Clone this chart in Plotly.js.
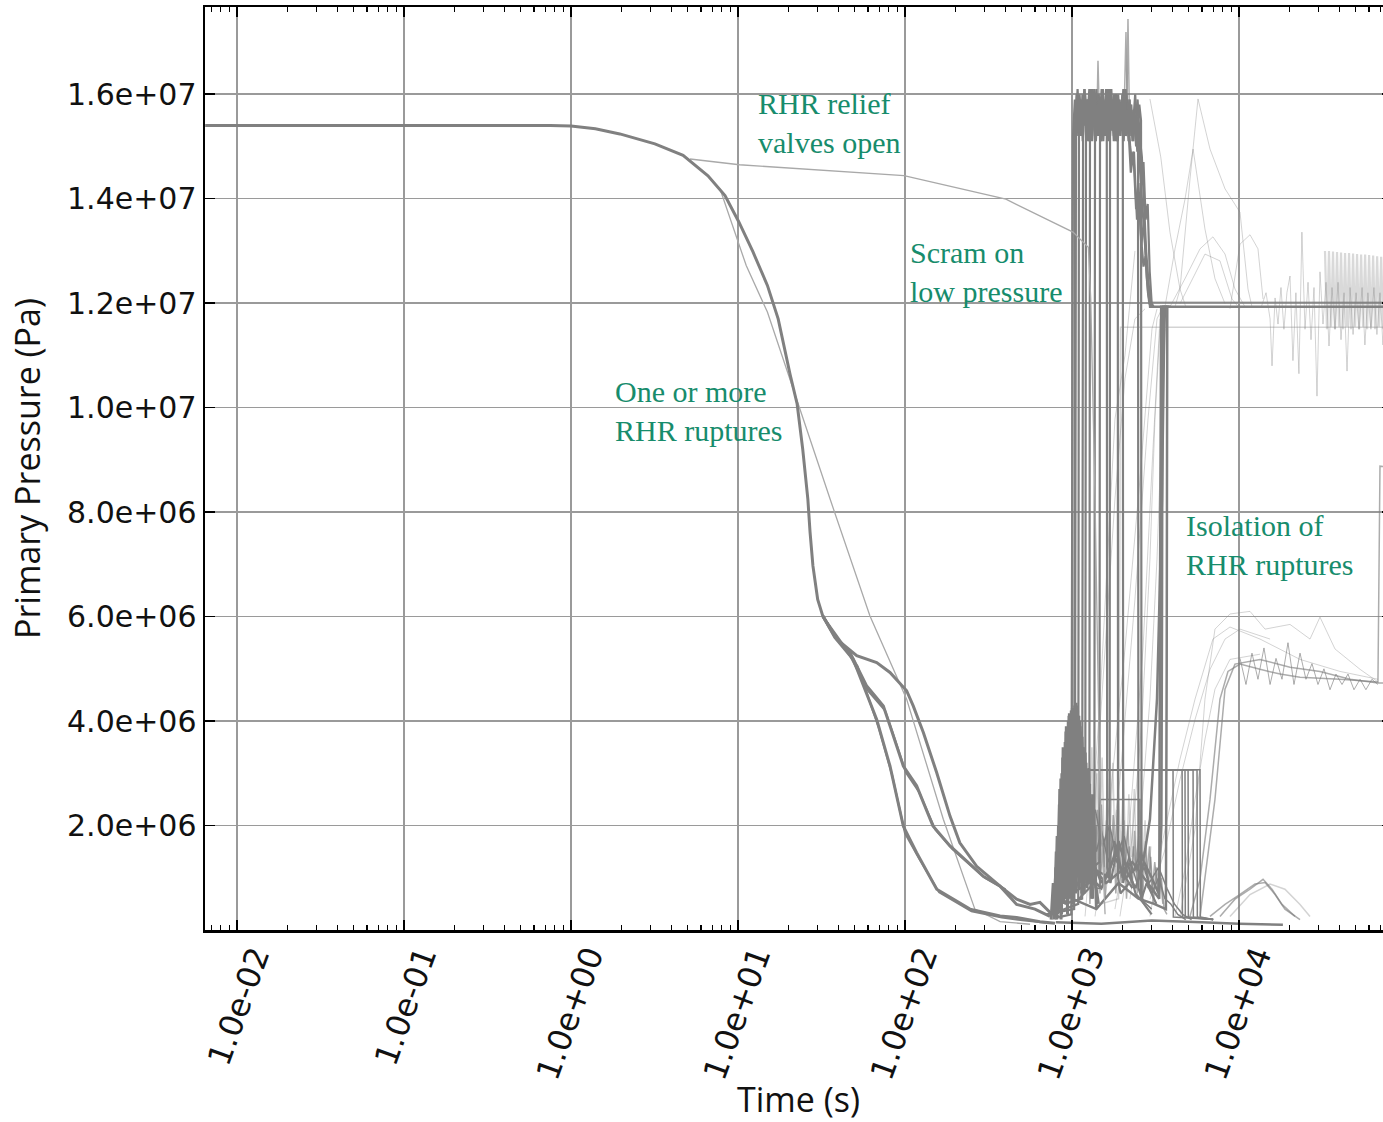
<!DOCTYPE html>
<html><head><meta charset="utf-8">
<script src="https://cdn.plot.ly/plotly-3.0.1.min.js"></script>
<style>html,body{margin:0;padding:0;overflow:hidden;background:#fff}#chart{width:1392px;height:1122px}</style>
</head><body><div id="chart"></div>
<script>
// ---------------- axis tick labels ----------------
const xTickVals = [0.01, 0.1, 1, 10, 100, 1000, 10000];
const xTickText = ['1.0e-02', '1.0e-01', '1.0e+00', '1.0e+01', '1.0e+02', '1.0e+03', '1.0e+04'];
const yTickVals = [2e6, 4e6, 6e6, 8e6, 10e6, 12e6, 14e6, 16e6];
const yTickText = ['2.0e+06', '4.0e+06', '6.0e+06', '8.0e+06', '1.0e+07', '1.2e+07', '1.4e+07', '1.6e+07'];

// ---------------- early transient (time s, pressure Pa) ----------------
const trunkT = [0.00645, 0.01, 0.1, 0.75, 1.0, 1.4, 1.96, 3.18, 4.69, 6.61, 8.36, 10.1, 12.3, 15.0, 17.4, 20.5, 22.6, 24.4, 26.2, 27.0, 28.1, 30.0, 32.2];
const trunkP = [15.40e6, 15.40e6, 15.40e6, 15.40e6, 15.39e6, 15.34e6, 15.24e6, 15.05e6, 14.83e6, 14.44e6, 14.06e6, 13.56e6, 12.98e6, 12.34e6, 11.70e6, 10.64e6, 10.07e6, 9.21e6, 8.25e6, 7.62e6, 6.97e6, 6.33e6, 6.01e6];
const branchAT = [32.2, 39.0, 51.4, 67.7, 81.3, 102.3, 112, 128.8, 154.9, 186, 213, 268.7, 371, 466, 561, 643, 738, 847];
const branchAP = [6.01e6, 5.57e6, 5.25e6, 5.12e6, 4.93e6, 4.58e6, 4.29e6, 3.78e6, 3.01e6, 2.18e6, 1.67e6, 1.22e6, 0.84e6, 0.59e6, 0.49e6, 0.53e6, 0.34e6, 0.24e6];
const branchBT = [32.2, 38, 46.9, 59.0, 74.2, 81.3, 97.7, 117.4, 147, 186, 294, 371, 466, 600, 738];
const branchBP = [6.01e6, 5.62e6, 5.31e6, 4.67e6, 4.29e6, 3.91e6, 3.14e6, 2.76e6, 1.99e6, 1.61e6, 1.03e6, 0.84e6, 0.49e6, 0.40e6, 0.26e6];
const branchB2T = [32.2, 45, 60, 76, 84, 101, 121, 152, 192, 300, 400];
const branchB2P = [6.01e6, 5.36e6, 4.58e6, 4.20e6, 3.80e6, 3.02e6, 2.65e6, 1.92e6, 1.55e6, 1.00e6, 0.78e6];
const branchCT = [32.2, 38, 49.0, 67.7, 81.3, 97.7, 117.4, 154.9, 245, 371, 466, 643, 791];
const branchCP = [6.01e6, 5.60e6, 5.18e6, 4.03e6, 3.14e6, 1.99e6, 1.48e6, 0.78e6, 0.40e6, 0.27e6, 0.24e6, 0.16e6, 0.13e6];
const branchC2T = [32.2, 40, 52, 70, 84, 100, 121, 160, 250, 380, 520, 700];
const branchC2P = [6.01e6, 5.55e6, 5.05e6, 3.85e6, 2.95e6, 1.85e6, 1.38e6, 0.72e6, 0.36e6, 0.24e6, 0.18e6, 0.14e6];
const fastT = [7.8, 11.2, 15.0, 35.6, 61.7, 102.3, 169.6, 262, 371, 561];
const fastP = [14.19e6, 12.72e6, 11.83e6, 8.25e6, 6.01e6, 4.42e6, 2.12e6, 0.40e6, 0.16e6, 0.11e6];
const reliefT = [5.16, 10.2, 98.6, 402, 1014, 1253, 1295, 1374, 1472, 1578];
const reliefP = [14.76e6, 14.65e6, 14.44e6, 13.99e6, 13.36e6, 13.07e6, 12.08e6, 8.25e6, 2.50e6, 0.30e6];

// ---------------- repressurisation band runs ----------------
const H1T = [850, 990, 1014, 1040, 1075, 1110, 1150, 1190, 1230, 1270, 1310, 1350, 1390, 1430, 1470, 1510, 1550, 1600, 1650, 1700, 1750, 1800, 1850, 1900, 1950, 2000, 2060, 2120, 2180, 2240, 2300, 2360, 2420, 2480, 2550, 2620, 2700, 2780, 2860, 2930, 3000, 3100];
const H1P = [0.25e6, 0.3e6, 15.2e6, 15.9e6, 15.3e6, 16.0e6, 15.2e6, 15.8e6, 15.4e6, 16.1e6, 15.3e6, 15.7e6, 15.1e6, 15.9e6, 15.4e6, 16.0e6, 15.2e6, 15.8e6, 15.3e6, 16.1e6, 15.5e6, 15.8e6, 15.2e6, 15.9e6, 15.3e6, 15.7e6, 15.2e6, 16.0e6, 15.4e6, 15.8e6, 15.1e6, 15.6e6, 15.0e6, 15.3e6, 14.6e6, 14.0e6, 13.4e6, 12.8e6, 12.3e6, 11.93e6, 11.93e6, 11.93e6];
const H2T = [900, 1150, 1165, 1190, 1215, 1240, 1265, 1290, 1320, 1350, 1380, 1410, 1440, 1470, 1500, 1530, 1560, 1590, 1615, 1625, 1700, 1850, 2000, 2300];
const H2P = [0.5e6, 0.6e6, 15.4e6, 16.1e6, 15.2e6, 15.9e6, 15.5e6, 16.1e6, 15.1e6, 15.8e6, 15.3e6, 16.0e6, 15.2e6, 15.7e6, 15.4e6, 16.1e6, 15.3e6, 15.9e6, 15.6e6, 1.2e6, 0.9e6, 1.5e6, 1.1e6, 0.8e6];
const H3T = [780, 1040, 1057, 1080, 1105, 1130, 1160, 1200, 1240, 1280, 1320, 1360, 1400, 1445, 1490, 1535, 1580, 1630, 1680, 1730, 1780, 1830, 1880, 1930, 1990, 2050, 2110, 2170, 2230, 2290, 2350, 2400, 2450, 2520, 2600, 2680, 2760, 2850, 2950, 3050];
const H3P = [0.4e6, 0.8e6, 15.5e6, 16.1e6, 15.4e6, 15.9e6, 15.1e6, 16.0e6, 15.3e6, 15.8e6, 15.2e6, 16.1e6, 15.5e6, 15.9e6, 15.1e6, 15.7e6, 15.4e6, 16.1e6, 15.2e6, 15.9e6, 15.3e6, 16.0e6, 15.1e6, 15.8e6, 15.4e6, 16.1e6, 15.2e6, 15.6e6, 15.0e6, 14.7e6, 14.9e6, 14.2e6, 13.6e6, 14.0e6, 13.2e6, 12.7e6, 12.9e6, 12.2e6, 11.93e6, 11.93e6];
const H4T = [950, 1200, 1213, 1240, 1270, 1300, 1335, 1370, 1405, 1440, 1480, 1520, 1560, 1600, 1645, 1690, 1735, 1780, 1830, 1880, 1930, 1980, 2015, 2025, 2150, 2400, 2700];
const H4P = [1.0e6, 1.3e6, 15.3e6, 15.9e6, 15.1e6, 16.1e6, 15.4e6, 15.8e6, 15.2e6, 16.0e6, 15.3e6, 15.9e6, 15.5e6, 16.1e6, 15.2e6, 15.8e6, 15.4e6, 16.0e6, 15.1e6, 15.9e6, 15.3e6, 15.7e6, 15.6e6, 0.9e6, 1.3e6, 0.7e6, 0.5e6];
const H5T = [1100, 1360, 1374, 1400, 1430, 1460, 1495, 1530, 1570, 1610, 1650, 1695, 1740, 1790, 1840, 1890, 1945, 2000, 2060, 2120, 2180, 2250, 2320, 2390, 2460, 2530, 2590, 2610, 2800, 3200];
const H5P = [0.6e6, 0.9e6, 15.6e6, 16.1e6, 15.3e6, 15.9e6, 15.2e6, 16.0e6, 15.4e6, 15.8e6, 15.1e6, 16.1e6, 15.3e6, 15.9e6, 15.5e6, 15.8e6, 15.2e6, 16.0e6, 15.3e6, 15.9e6, 15.1e6, 15.7e6, 15.4e6, 16.0e6, 15.2e6, 15.8e6, 15.5e6, 0.6e6, 0.9e6, 0.5e6];
const H6T = [700, 1030, 1042, 1065, 1090, 1120, 1150, 1185, 1220, 1255, 1295, 1335, 1375, 1415, 1460, 1505, 1550, 1600, 1650, 1700, 1755, 1810, 1870, 1930, 1990, 2050, 2110, 2164, 2250, 2330, 2420, 2500, 2600, 2700, 2800, 2900, 3000];
const H6P = [0.3e6, 0.4e6, 15.4e6, 16.0e6, 15.2e6, 15.8e6, 15.3e6, 16.1e6, 15.5e6, 15.9e6, 15.2e6, 16.0e6, 15.1e6, 15.8e6, 15.4e6, 16.1e6, 15.2e6, 15.9e6, 15.3e6, 16.0e6, 15.5e6, 15.8e6, 15.1e6, 15.9e6, 15.3e6, 16.1e6, 15.4e6, 15.5e6, 14.5e6, 14.9e6, 13.8e6, 14.3e6, 13.1e6, 13.6e6, 12.5e6, 12.0e6, 11.93e6];
const H7T = [1300, 1680, 1690, 1720, 1760, 1800, 1845, 1890, 1940, 1990, 2040, 2095, 2150, 2210, 2270, 2330, 2400, 2470, 2540, 2620, 2700, 2780, 2870, 2960, 3050];
const H7P = [1.2e6, 1.0e6, 15.7e6, 16.1e6, 15.3e6, 15.9e6, 15.2e6, 16.0e6, 15.4e6, 15.8e6, 15.1e6, 16.1e6, 15.3e6, 15.9e6, 15.2e6, 15.7e6, 15.4e6, 15.9e6, 15.2e6, 14.8e6, 13.9e6, 13.0e6, 12.4e6, 11.95e6, 11.93e6];
const H8T = [820, 1090, 1101, 1125, 1155, 1185, 1215, 1250, 1285, 1320, 1360, 1400, 1440, 1485, 1530, 1575, 1625, 1675, 1725, 1780, 1835, 1890, 1950, 2010, 2075, 2140, 2210, 2280, 2350, 2420, 2484, 2500, 2700, 3000];
const H8P = [0.35e6, 0.5e6, 15.8e6, 15.2e6, 16.0e6, 15.4e6, 15.9e6, 15.1e6, 16.1e6, 15.3e6, 15.9e6, 15.2e6, 16.0e6, 15.5e6, 15.8e6, 15.2e6, 16.1e6, 15.4e6, 15.9e6, 15.1e6, 16.0e6, 15.3e6, 15.8e6, 15.2e6, 16.1e6, 15.4e6, 15.9e6, 15.2e6, 15.7e6, 15.3e6, 15.5e6, 0.8e6, 0.5e6, 0.3e6];
const H9T = [1000, 1270, 1282, 1305, 1330, 1355, 1380, 1410, 1440, 1470, 1505, 1540, 1575, 1610, 1650, 1690, 1735, 1780, 1825, 1875, 1925, 1975, 2030, 2085, 2145, 2205, 2265, 2330, 2395, 2460, 2530, 2600, 2680, 2760, 2840, 2920, 3000, 3080];
const H9P = [0.7e6, 0.9e6, 15.9e6, 15.3e6, 16.1e6, 15.5e6, 15.9e6, 15.2e6, 16.0e6, 15.3e6, 15.9e6, 15.1e6, 15.8e6, 15.4e6, 16.1e6, 15.2e6, 15.9e6, 15.4e6, 16.0e6, 15.2e6, 15.8e6, 15.3e6, 16.1e6, 15.5e6, 15.9e6, 15.2e6, 15.8e6, 15.1e6, 15.6e6, 14.9e6, 15.2e6, 14.4e6, 14.7e6, 13.6e6, 13.9e6, 12.6e6, 12.0e6, 11.93e6];
const H10T = [1200, 1460, 1472, 1500, 1530, 1560, 1595, 1630, 1665, 1700, 1740, 1780, 1830, 1880, 1886, 1950, 2200];
const H10P = [1.1e6, 1.3e6, 15.7e6, 15.1e6, 16.0e6, 15.3e6, 15.9e6, 15.2e6, 16.1e6, 15.4e6, 15.8e6, 15.2e6, 16.0e6, 15.5e6, 1.0e6, 0.7e6, 0.9e6];
const spikeT = [1415, 1431, 1450, null, 2060, 2105, 2140, null, 2130, 2164, 2200];
const spikeP = [15.8e6, 16.64e6, 15.9e6, null, 15.9e6, 17.19e6, 15.8e6, null, 15.7e6, 17.44e6, 15.9e6];
const descT = [2929, 3400, 3860, 4433, 4800];
const descP = [15.91e6, 14.8e6, 13.36e6, 12.27e6, 11.93e6];

// ---------------- isolation runs ----------------
const I1T = [800, 1000, 1150, 1300, 1500, 1700, 1900, 2150, 2400, 2700, 3000, 3300, 3430, 3460, 3480, 3520, 3700];
const I1P = [0.3e6, 0.9e6, 1.8e6, 1.4e6, 0.9e6, 1.2e6, 1.7e6, 1.1e6, 0.8e6, 1.3e6, 1.0e6, 0.7e6, 2.0e6, 6.0e6, 10.5e6, 11.93e6, 11.93e6];
const I2T = [900, 1200, 1500, 1800, 2100, 2382, 2700, 2929, 3228, 3458, 3550, 3603, 3800];
const I2P = [0.5e6, 1.1e6, 0.8e6, 1.4e6, 1.0e6, 1.16e6, 1.4e6, 2.12e6, 4.42e6, 8.25e6, 11.0e6, 11.93e6, 11.93e6];
const I3T = [1000, 1400, 1900, 2500, 3100, 3650, 3690, 3720, 3900];
const I3P = [0.6e6, 0.4e6, 0.9e6, 0.6e6, 0.5e6, 0.4e6, 5.0e6, 11.93e6, 11.93e6];
const I4T = [1100, 1600, 2300, 3000, 3330, 3370, 3420, 3600];
const I4P = [1.5e6, 0.9e6, 1.3e6, 0.8e6, 0.6e6, 7.0e6, 11.93e6, 11.93e6];
const LC1T = [1374, 1690, 2075, 2552, 3013, 3228];
const LC1P = [0.26e6, 2.50e6, 5.38e6, 8.63e6, 11.51e6, 11.89e6];
const LC2T = [1578, 1937, 2382, 2852, 3228, 3458];
const LC2P = [0.59e6, 2.88e6, 6.33e6, 9.78e6, 11.70e6, 11.89e6];
const LC3T = [1808, 2223, 2661, 3054, 3363];
const LC3P = [0.40e6, 2.12e6, 5.38e6, 9.21e6, 11.70e6];
const LC4T = [1282, 1472, 1643, 1808, 2075, 2382];
const LC4P = [1.54e6, 4.42e6, 7.29e6, 9.78e6, 11.0e6, 13.0e6];
const LC5T = [1197, 1374, 1578, 1808, 2075, 2382, 2734];
const LC5P = [0.26e6, 2.50e6, 5.38e6, 8.25e6, 10.55e6, 11.70e6, 11.89e6];
const LC6T = [1937, 2288, 2626, 2929, 3139, 3363];
const LC6P = [0.26e6, 1.74e6, 4.03e6, 7.10e6, 9.78e6, 11.51e6];
const LC7T = [2223, 2552, 2929, 3228, 3458, 3603];
const LC7P = [0.59e6, 1.93e6, 4.42e6, 7.10e6, 9.78e6, 11.51e6];
const LC8T = [2929, 3603, 4433, 5454, 6705, 8245, 10140, 15350];
const LC8P = [0.59e6, 1.54e6, 2.88e6, 4.03e6, 4.99e6, 5.57e6, 5.76e6, 5.57e6];
const LC9T = [4138, 4750, 5454, 6255, 7180, 8830, 13360];
const LC9P = [0.26e6, 1.16e6, 2.50e6, 3.65e6, 4.61e6, 5.18e6, 5.28e6];

// ---------------- low-pressure runs ----------------
const LW1T = [1100, 1200, 1300, 1400, 1500, 1650, 1800, 2000, 2200, 2450, 2700, 3000, 3300, 3600, 3900, 4300, 4800];
const LW1P = [2.4e6, 1.8e6, 2.2e6, 1.5e6, 1.9e6, 1.3e6, 1.7e6, 1.0e6, 1.4e6, 0.9e6, 1.2e6, 0.7e6, 1.0e6, 0.6e6, 0.5e6, 0.3e6, 0.2e6];
const LW2T = [1050, 1150, 1250, 1380, 1520, 1680, 1850, 2050, 2300, 2600, 2900, 3300, 3700, 4100, 4600, 5200];
const LW2P = [1.2e6, 2.6e6, 1.9e6, 2.3e6, 1.6e6, 2.0e6, 1.4e6, 1.8e6, 1.1e6, 1.5e6, 0.9e6, 1.2e6, 0.8e6, 0.5e6, 0.3e6, 0.2e6];
const LZ1T = [1100, 1130, 1165, 1200, 1240, 1280, 1325, 1370, 1420, 1470, 1525, 1580, 1640, 1700, 1765, 1830, 1900, 1970, 2045, 2120, 2200, 2285, 2370, 2460, 2550, 2650, 2750, 2850, 2960, 3070, 3190, 3310, 3430, 3560, 3700];
const LZ1P = [2.2e6, 0.6e6, 2.5e6, 0.9e6, 2.1e6, 0.5e6, 1.9e6, 0.8e6, 2.3e6, 0.7e6, 1.8e6, 0.6e6, 2.0e6, 1.0e6, 2.2e6, 0.7e6, 1.7e6, 0.9e6, 2.1e6, 0.6e6, 1.6e6, 0.8e6, 1.9e6, 0.7e6, 1.5e6, 0.6e6, 1.7e6, 0.8e6, 1.4e6, 0.5e6, 1.2e6, 0.6e6, 1.0e6, 0.4e6, 0.3e6];
const LZ2T = [1120, 1150, 1185, 1220, 1260, 1300, 1345, 1395, 1445, 1500, 1555, 1610, 1670, 1735, 1800, 1865, 1935, 2010, 2085, 2160, 2245, 2330, 2420, 2510, 2600, 2700, 2800, 2910, 3020, 3130, 3250, 3370, 3500];
const LZ2P = [1.3e6, 2.8e6, 1.1e6, 2.4e6, 1.4e6, 2.6e6, 1.2e6, 2.0e6, 1.0e6, 2.4e6, 1.2e6, 2.1e6, 0.9e6, 1.8e6, 1.3e6, 2.3e6, 1.1e6, 1.9e6, 1.2e6, 2.0e6, 0.9e6, 1.6e6, 1.1e6, 1.8e6, 0.8e6, 1.5e6, 1.0e6, 1.6e6, 0.7e6, 1.3e6, 0.8e6, 1.1e6, 0.5e6];
const LZ3T = [1090, 1120, 1155, 1190, 1230, 1270, 1315, 1360, 1410, 1460, 1515, 1570, 1630, 1690, 1755, 1820, 1890, 1960, 2035, 2110, 2190, 2275, 2360, 2450, 2545, 2640, 2740, 2850, 2960];
const LZ3P = [3.4e6, 1.5e6, 3.6e6, 1.2e6, 3.2e6, 1.8e6, 3.5e6, 1.3e6, 3.0e6, 1.6e6, 3.3e6, 1.1e6, 2.9e6, 1.7e6, 3.2e6, 1.2e6, 2.8e6, 1.5e6, 3.0e6, 1.0e6, 2.6e6, 1.4e6, 2.7e6, 0.9e6, 2.3e6, 1.2e6, 2.1e6, 0.8e6, 1.6e6];
const shelfT = [1400, 1472, 1480, 2552, 2570, 3000];
const shelfP = [0.8e6, 0.8e6, 2.5e6, 2.5e6, 0.6e6, 0.4e6];
const floorT = [800, 1500, 3000, 6000, 10000, 18320];
const floorP = [0.15e6, 0.12e6, 0.18e6, 0.15e6, 0.12e6, 0.10e6];
const BL1T = [770, 790, 810, 830, 850, 870, 890, 910, 930, 950, 970, 990, 1010, 1030, 1050, 1070, 1090, 1110, 1130, 1150, 1175, 1200, 1230, 1260, 1290, 1330, 1380, 1440];
const BL1P = [0.3e6, 0.6e6, 0.2e6, 2.0e6, 0.4e6, 3.0e6, 0.5e6, 3.6e6, 0.8e6, 4.0e6, 0.6e6, 4.2e6, 1.0e6, 4.25e6, 0.7e6, 4.3e6, 1.2e6, 4.0e6, 0.9e6, 3.7e6, 1.1e6, 3.4e6, 0.8e6, 3.1e6, 1.2e6, 2.6e6, 0.9e6, 0.5e6];
const BL2T = [780, 800, 820, 840, 860, 880, 900, 920, 940, 960, 980, 1000, 1020, 1040, 1060, 1080, 1100, 1120, 1140, 1160, 1185, 1210, 1245, 1275, 1310, 1350, 1400];
const BL2P = [0.2e6, 1.2e6, 0.3e6, 2.4e6, 0.2e6, 3.3e6, 0.6e6, 3.8e6, 0.3e6, 4.1e6, 0.9e6, 4.2e6, 0.5e6, 4.3e6, 1.5e6, 4.2e6, 0.8e6, 3.9e6, 1.4e6, 3.5e6, 0.7e6, 3.2e6, 1.0e6, 2.8e6, 0.6e6, 2.3e6, 0.4e6];
const BL3T = [800, 825, 850, 875, 900, 925, 950, 975, 1000, 1025, 1050, 1075, 1100, 1125, 1150, 1180, 1210, 1240, 1270];
const BL3P = [0.5e6, 1.6e6, 0.4e6, 2.6e6, 1.0e6, 3.2e6, 1.5e6, 3.7e6, 2.0e6, 3.9e6, 1.6e6, 4.1e6, 2.2e6, 3.6e6, 1.8e6, 3.3e6, 2.0e6, 2.6e6, 1.5e6];
const BL4T = [760, 785, 805, 825, 845, 865, 885, 905, 925, 945, 965, 985, 1005, 1025, 1045, 1065, 1085, 1105, 1125, 1145, 1170, 1195, 1225, 1255, 1290, 1330];
const BL4P = [0.4e6, 0.3e6, 1.5e6, 0.5e6, 2.7e6, 0.3e6, 3.5e6, 1.1e6, 3.9e6, 0.5e6, 4.15e6, 1.3e6, 4.25e6, 0.6e6, 4.3e6, 1.0e6, 4.1e6, 1.6e6, 3.8e6, 0.7e6, 3.5e6, 1.3e6, 3.0e6, 0.9e6, 2.5e6, 0.6e6];
const BL5T = [750, 772, 795, 815, 838, 858, 878, 898, 918, 938, 958, 978, 998, 1018, 1038, 1058, 1078, 1098, 1118, 1140, 1165, 1190, 1220, 1250];
const BL5P = [0.2e6, 0.9e6, 0.3e6, 1.8e6, 0.6e6, 2.9e6, 1.0e6, 3.4e6, 1.4e6, 3.8e6, 1.8e6, 4.0e6, 2.2e6, 4.2e6, 1.8e6, 4.35e6, 2.5e6, 4.1e6, 2.0e6, 3.7e6, 1.7e6, 3.3e6, 1.4e6, 2.7e6];
const holdRiseT = [1150, 1240, 1250];
const holdRiseP = [1.0e6, 1.0e6, 3.07e6];
const holdDropT = [4027, 4564, 4750, 4955, 5309, 5607, 5843];
const holdEndT = [4045, 4585, 4770, 4975, 5330, 5630, 5870];
const holdFloorP = [0.25e6];
const holdTailT = [7000];
const holdTailP = [0.2e6];

// ---------------- late runs ----------------
const R1T = [5090, 5843, 6705, 7692, 8590, 10140, 13360, 17620, 23200, 40270, 67930, 69860, 82500];
const R1P = [0.26e6, 0.97e6, 2.50e6, 4.42e6, 4.95e6, 5.09e6, 4.99e6, 4.90e6, 4.84e6, 4.80e6, 4.75e6, 8.88e6, 8.86e6];
const R2T = [4433, 5454, 6255, 7180, 8830, 11640, 14320, 20200, 26620, 30550, 37580, 53090, 67930];
const R2P = [0.26e6, 1.93e6, 4.42e6, 5.76e6, 6.05e6, 6.10e6, 5.76e6, 5.85e6, 5.57e6, 5.99e6, 5.38e6, 4.99e6, 4.75e6];
const R3T = [5843, 7180, 8245, 9460, 13360, 20200, 30550, 46240, 67930, 82500];
const R3P = [0.26e6, 2.50e6, 4.61e6, 5.09e6, 5.18e6, 5.03e6, 4.95e6, 4.80e6, 4.73e6, 4.73e6];
const R4T = [10140, 11010, 11960, 12990, 14110, 15350, 16660, 18090, 19650, 21340, 23200, 25180, 27350, 29710, 32270, 35070, 38080, 41380, 44950, 48820, 53090, 57540, 62520, 67930];
const R4P = [5.2e6, 4.7e6, 5.3e6, 4.8e6, 5.4e6, 4.7e6, 5.2e6, 4.8e6, 5.5e6, 4.7e6, 5.3e6, 4.8e6, 5.1e6, 4.7e6, 5.0e6, 4.6e6, 4.9e6, 4.7e6, 4.9e6, 4.6e6, 4.8e6, 4.6e6, 4.8e6, 4.7e6];
const R5T = [2929, 3507, 4433, 5454, 6980, 8830, 13360, 23200, 40270, 67930];
const R5P = [0.26e6, 1.74e6, 3.27e6, 4.42e6, 5.57e6, 5.80e6, 5.57e6, 5.18e6, 4.95e6, 4.80e6];
const BR1T = [6705, 8245, 10140, 12470, 14320, 16440, 18840, 23200];
const BR1P = [0.26e6, 0.49e6, 0.68e6, 0.88e6, 0.91e6, 0.68e6, 0.40e6, 0.20e6];
const BR2T = [7692, 9460, 11640, 13930, 15770, 18090, 21640];
const BR2P = [0.26e6, 0.59e6, 0.78e6, 0.97e6, 0.78e6, 0.49e6, 0.26e6];
const BR3T = [8830, 11640, 15350, 18840, 23200, 26620];
const BR3P = [0.26e6, 0.68e6, 0.88e6, 0.78e6, 0.49e6, 0.26e6];
const PK1T = [4138, 4433, 5090, 5682, 6705, 8245, 10140, 11320, 11960];
const PK1P = [11.93e6, 12.27e6, 14.38e6, 15.91e6, 14.95e6, 14.19e6, 13.74e6, 12.27e6, 11.93e6];
const PK2T = [3603, 4138, 4750, 5309, 6255, 7180, 8245];
const PK2P = [11.93e6, 13.04e6, 13.99e6, 14.95e6, 13.42e6, 12.47e6, 11.99e6];
const BU1T = [3860, 4750, 5843, 6980, 8245, 9460, 10860];
const BU1P = [11.93e6, 12.47e6, 13.04e6, 13.27e6, 12.94e6, 12.27e6, 11.93e6];
const BU2T = [4433, 5454, 6255, 7692, 9080, 10140];
const BU2P = [11.99e6, 12.56e6, 12.94e6, 12.81e6, 12.08e6, 11.89e6];
const BU3T = [8830, 10140, 11640, 12990, 13930];
const BU3P = [11.89e6, 13.13e6, 13.31e6, 13.04e6, 12.08e6];
const sideT = [1500, 1900, 1937, 1950, 82500];
const sideP = [0.5e6, 0.6e6, 8.0e6, 11.54e6, 11.54e6];
const flatT = [2929, 82500];
const flatP = [11.93e6, 11.93e6];
const flat2T = [3000, 82500];
const flat2P = [12.02e6, 12.02e6];
const hairT = [13600, 14520, 15350, 15770, 16440, 17130, 17840, 18580, 19360, 20200, 21040, 21920, 22850, 23810, 24850, 25900, 26990, 28130, 29310, 30550, 31840, 33190, 34590, 36050, 37580, 39170, 40820, 42550, 44350, 46240, 48190, 50230, 52360, 54570, 56760, 59150, 61650, 64260, 66980, 69860, 72800, 75880, 79090];
const hairP = [11.93e6, 12.2e6, 11.7e6, 10.8e6, 12.1e6, 11.6e6, 12.3e6, 11.5e6, 12.2e6, 12.52e6, 10.9e6, 12.2e6, 10.65e6, 13.36e6, 11.5e6, 12.4e6, 11.3e6, 12.3e6, 10.22e6, 12.6e6, 11.6e6, 12.4e6, 11.18e6, 12.3e6, 11.5e6, 12.4e6, 11.3e6, 12.2e6, 10.7e6, 12.3e6, 11.4e6, 12.2e6, 11.5e6, 12.3e6, 11.2e6, 12.2e6, 11.5e6, 12.3e6, 11.4e6, 12.2e6, 11.2e6, 12.2e6, 11.6e6];
const combT = [32730, 33650, 34590, 35560, 36560, 37580, 38640, 39720, 40830, 41980, 43150, 44360, 45610, 46890, 48200, 49550, 50940, 52370, 53840, 55350, 56900, 58500, 60140, 61820, 63560, 65340, 67170, 69060, 71000, 72990, 75040, 77150, 79310, 81540];
const combP = [13.00e6, 11.5e6, 13.0e6, 11.55e6, 12.99e6, 11.5e6, 12.98e6, 11.55e6, 12.97e6, 11.5e6, 12.96e6, 11.55e6, 12.96e6, 11.5e6, 12.95e6, 11.55e6, 12.94e6, 11.5e6, 12.93e6, 11.55e6, 12.93e6, 11.5e6, 12.92e6, 11.55e6, 12.91e6, 11.5e6, 12.9e6, 11.55e6, 12.89e6, 11.5e6, 12.88e6, 11.55e6, 12.88e6, 11.5e6];

// ---------------- annotation texts ----------------
const noteTexts = ['RHR relief<br>valves open', 'Scram on<br>low pressure', 'One or more<br>RHR ruptures', 'Isolation of<br>RHR ruptures'];

// ---------------- styling ----------------
const DARK = '#808080';
const MED = 'rgba(128,128,128,0.65)';
const LIGHT = 'rgba(128,128,128,0.35)';
const FAINT = 'rgba(128,128,128,0.3)';
const THIN = '#a9a9a9';

function run(t, p, color, width) {
  return {type: 'scatter', mode: 'lines', x: t, y: p, line: {color: color, width: width, simplify: false}, hoverinfo: 'skip', connectgaps: false};
}

const traces = [
  run(combT, combP, FAINT, 2.2),
  run(hairT, hairP, LIGHT, 1),
  run(R4T, R4P, MED, 1),
  run(R2T, R2P, LIGHT, 1),
  run(R5T, R5P, LIGHT, 1),
  run(R1T, R1P, MED, 1.5),
  run(R3T, R3P, MED, 1.5),
  run(BR1T, BR1P, MED, 1.5),
  run(BR2T, BR2P, MED, 1.5),
  run(BR3T, BR3P, LIGHT, 1.5),
  run(PK1T, PK1P, LIGHT, 1),
  run(PK2T, PK2P, LIGHT, 1),
  run(BU1T, BU1P, LIGHT, 1),
  run(BU2T, BU2P, LIGHT, 1),
  run(BU3T, BU3P, LIGHT, 1),
  run(descT, descP, LIGHT, 1),
  run(sideT, sideP, LIGHT, 1.5),
  run(LC1T, LC1P, LIGHT, 1),
  run(LC2T, LC2P, LIGHT, 1),
  run(LC3T, LC3P, LIGHT, 1),
  run(LC4T, LC4P, LIGHT, 1),
  run(LC5T, LC5P, LIGHT, 1),
  run(LC6T, LC6P, LIGHT, 1),
  run(LC7T, LC7P, LIGHT, 1),
  run(LC8T, LC8P, LIGHT, 1),
  run(LC9T, LC9P, LIGHT, 1),
  run(floorT, floorP, DARK, 2.5),
  run(LZ3T, LZ3P, LIGHT, 1.5),
  run(LZ1T, LZ1P, MED, 1.5),
  run(LZ2T, LZ2P, MED, 1.5),
  run(LW1T, LW1P, DARK, 1.5),
  run(LW2T, LW2P, DARK, 1.5),
  run(shelfT, shelfP, DARK, 1.5),
  run(BL1T, BL1P, DARK, 3),
  run(BL2T, BL2P, DARK, 3),
  run(BL3T, BL3P, DARK, 3),
  run(BL4T, BL4P, DARK, 3),
  run(BL5T, BL5P, DARK, 3)
];
holdDropT.forEach(function (td, i) {
  traces.push(run(holdRiseT.concat([td, holdEndT[i]], holdTailT),
                  holdRiseP.concat([holdRiseP[holdRiseP.length - 1]], holdFloorP, holdTailP), DARK, 1.5));
});
traces.push(
  run(flatT, flatP, DARK, 2.5),
  run(flat2T, flat2P, MED, 1.5),
  run(H1T, H1P, DARK, 2.2),
  run(H2T, H2P, DARK, 2.2),
  run(H3T, H3P, DARK, 2.2),
  run(H4T, H4P, DARK, 2.2),
  run(H5T, H5P, DARK, 2.2),
  run(H6T, H6P, DARK, 2.2),
  run(H7T, H7P, DARK, 2.2),
  run(H8T, H8P, DARK, 2.2),
  run(H9T, H9P, DARK, 2.2),
  run(H10T, H10P, DARK, 2.2),
  run(spikeT, spikeP, MED, 1.5),
  run(I1T, I1P, DARK, 2.5),
  run(I2T, I2P, DARK, 2.5),
  run(I3T, I3P, DARK, 2.5),
  run(I4T, I4P, DARK, 2.5),
  run(reliefT, reliefP, THIN, 1.3),
  run(fastT, fastP, THIN, 1.3),
  run(branchAT, branchAP, DARK, 3),
  run(branchBT, branchBP, DARK, 3),
  run(branchB2T, branchB2P, DARK, 2),
  run(branchCT, branchCP, DARK, 3),
  run(branchC2T, branchC2P, DARK, 2),
  run(trunkT, trunkP, DARK, 3)
);

// minor tick positions (2..9 within each decade)
const minorX = [];
for (let e = -3; e <= 4; e++) { for (let m = 2; m <= 9; m++) { minorX.push(m * Math.pow(10, e)); } }

const noteFont = {family: 'Liberation Serif, serif', size: 30, color: '#178c6c'};
function note(text, x, y) {
  return {xref: 'paper', yref: 'paper', x: x, y: y, xanchor: 'left', yanchor: 'middle', align: 'left', showarrow: false, text: text, font: noteFont, borderpad: 0};
}

const layout = {
  width: 1392, height: 1122,
  margin: {l: 205, r: 0, t: 7, b: 192},
  paper_bgcolor: '#ffffff', plot_bgcolor: '#ffffff',
  showlegend: false,
  xaxis: {
    type: 'log', range: [-2.1916, 4.9162], autorange: false,
    tickmode: 'array', tickvals: xTickVals, ticktext: xTickText,
    tickangle: -70, tickfont: {family: 'DejaVu Sans', size: 32, color: '#111'},
    ticklabelshift: 18, ticklabelstandoff: -8,
    ticks: 'inside', ticklen: 10, tickwidth: 1.5, tickcolor: '#000',
    minor: {tickmode: 'array', tickvals: minorX, ticks: 'inside', ticklen: 5, tickwidth: 1.2, tickcolor: '#000', showgrid: false},
    showline: true, linecolor: '#000', linewidth: 2.5, mirror: 'allticks',
    showgrid: true, gridcolor: '#9a9a9a', gridwidth: 1.5, zeroline: false,
    title: {text: 'Time (s)', font: {family: 'Open Sans', size: 34, color: '#111'}, standoff: 14},
    automargin: false
  },
  yaxis: {
    range: [0, 17.67e6], autorange: false,
    tickmode: 'array', tickvals: yTickVals, ticktext: yTickText,
    tickfont: {family: 'DejaVu Sans', size: 30, color: '#111'},
    ticks: 'inside', ticklen: 10, tickwidth: 1.5, tickcolor: '#000',
    showline: true, linecolor: '#000', linewidth: 2.5, mirror: 'allticks',
    showgrid: true, gridcolor: '#9a9a9a', gridwidth: 1.5, zeroline: false,
    title: {text: 'Primary Pressure (Pa)', font: {family: 'Open Sans', size: 34, color: '#111'}, standoff: 16},
    automargin: false
  },
  annotations: [
    note(noteTexts[0], 0.4650, 0.8738),
    note(noteTexts[1], 0.5931, 0.7129),
    note(noteTexts[2], 0.3446, 0.5623),
    note(noteTexts[3], 0.8256, 0.4166)
  ]
};

Plotly.newPlot('chart', traces, layout, {staticPlot: true, displayModeBar: false});
</script>
</body></html>
